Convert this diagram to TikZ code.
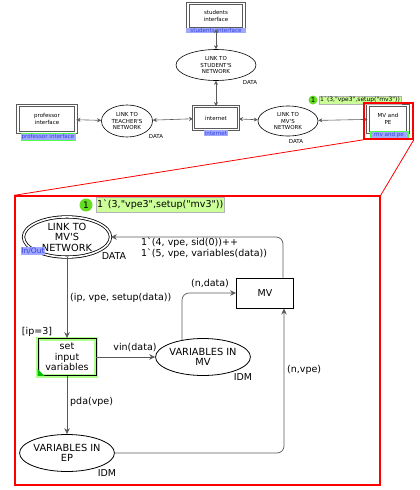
\documentclass[tikz,border=0pt]{standalone}
\usepackage{fontspec}
\setmainfont{DejaVu Sans}[Ligatures=TeXOff]
\usetikzlibrary{arrows.meta,shapes.geometric}
\definecolor{lgray}{HTML}{5A5A5A}
\definecolor{tokgreen}{HTML}{66DD22}
\definecolor{toklab}{HTML}{CCFF99}
\definecolor{tagblue}{HTML}{A0A8FF}
\definecolor{tagtext}{HTML}{3344DD}
\begin{document}
\begin{tikzpicture}[x=1pt,y=-1pt,
  ftop/.style={font=\fontsize{5.5}{6.5}\selectfont, align=center},
  fin/.style={font=\fontsize{9.5}{10.5}\selectfont, align=center},
  subst/.style={rectangle, draw=lgray, double=white, double distance=1.3pt, line width=0.9pt, inner sep=0pt, ftop},
  tplace/.style={ellipse, draw=black, line width=0.6pt, inner sep=0pt, ftop},
  iplace/.style={ellipse, draw=black, line width=0.8pt, inner sep=0pt, font=\fontsize{9.8}{10.5}\selectfont, align=center},
  tag/.style={rectangle, fill=tagblue, text=tagtext, inner sep=0.6pt, font=\fontsize{5.6}{6}\selectfont},
  darr/.style={draw=lgray, line width=0.6pt, {Stealth[length=4pt,width=4pt,inset=1.2pt]}-{Stealth[length=4pt,width=4pt,inset=1.2pt]}},
  arr/.style={draw=lgray, line width=0.7pt, -{Stealth[length=6pt,width=5.5pt,inset=2pt]}},
  insc/.style={fin, inner sep=0pt},
  tokc/.style={circle, fill=tokgreen, inner sep=0pt, minimum size=#1, font=\fontsize{7}{7}\selectfont},
  tokl/.style={rectangle, fill=toklab, draw=gray!60, inner sep=1pt}
]
\useasboundingbox (0,0) rectangle (420,490);

% ---------- top level ----------
\node[subst, minimum width=56, minimum height=25] (stu) at (216,16) {students\\interface};
\node[tag, minimum width=60] (stutag) at (216,30.5) {students interface};
\node[tplace, minimum width=80, minimum height=31] (lts) at (216,65) {LINK TO\\STUDENT'S\\NETWORK};
\node[ftop] (ltsd) at (250,82) {DATA};

\node[subst, minimum width=45, minimum height=23] (inet) at (216,118) {internet};
\node[tag] (inettag) at (216,133) {internet};

\node[subst, minimum width=58, minimum height=27] (prof) at (47,119) {professor\\interface};
\node[tag, draw=green!70, line width=0.4pt] (proftag) at (48,136.5) {professor interface};

\node[tplace, minimum width=51, minimum height=32] (ltt) at (127,121) {LINK TO\\TEACHER'S\\NETWORK};
\node[ftop] (lttd) at (156,136) {DATA};

\node[tplace, minimum width=60, minimum height=30] (lmvt) at (288,121) {LINK TO\\MV'S\\NETWORK};
\node[ftop] (lmvtd) at (296,141) {DATA};

\node[subst, minimum width=40, minimum height=27] (mvpe) at (388,119) {MV and\\PE};
\node[tag, draw=green!70, line width=0.4pt, minimum width=38] (mvpetag) at (389,135) {mv and pe};

\node[tokc=9pt] (t1) at (313,100) {1};
\node[tokl, anchor=west, font=\fontsize{6}{6}\selectfont] (t1l) at (319,100) {1`(3,"vpe3",setup("mv3"))};

\draw[darr] (stu) -- (lts);
\draw[darr] (lts) -- (inet);
\draw[darr] (prof) -- (ltt);
\draw[darr] (ltt) -- (inet);
\draw[darr] (inet) -- (lmvt);
\draw[darr] (lmvt) -- (mvpe);

% ---------- zoom frame ----------
\node[draw=red, line width=1.6pt, minimum width=49, minimum height=36, inner sep=0pt] (hl) at (388.5,121) {};
\node[draw=red, line width=1.4pt, minimum width=365, minimum height=289, inner sep=0pt] (big) at (197.5,340.5) {};
\draw[red, line width=0.8pt] (hl.south west) -- (big.north west);
\draw[red, line width=0.8pt] (hl.south east) -- (big.north east);

% ---------- inner page ----------
\node[tokc=13pt, font=\fontsize{9}{9}\selectfont] (t2) at (86,205) {1};
\node[tokl, anchor=west, font=\fontsize{9.5}{9.5}\selectfont, minimum height=15] (t2l) at (96,205) {1`(3,"vpe3",setup("mv3"))};

\node[iplace, double=white, double distance=1.6pt, minimum width=87, minimum height=33] (lmv) at (67,237) {LINK TO\\MV'S\\NETWORK};
\node[tag, font=\fontsize{7.5}{8}\selectfont] (io) at (33,251) {In/Out};
\node[insc] (lmvd) at (114,256) {DATA};

\node[rectangle, draw=black, line width=0.9pt, minimum width=57, minimum height=30, fin] (mv) at (265,293) {MV};

\node[rectangle, draw=black, line width=0.9pt, minimum width=58, minimum height=37, inner sep=0pt, fin,
      preaction={draw=green!60!lime, line width=4pt, opacity=0.45}] (set) at (67,357) {set\\input\\variables};
\fill[green!75!black] (set.south west) -- ++(7,0) -- ++(-7,-7) -- cycle;
\node[insc] (guard) at (37,332) {[ip=3]};

\node[iplace, minimum width=84, minimum height=37] (vmv) at (203,357) {VARIABLES IN\\MV};
\node[insc] (vmvd) at (243,377) {IDM};

\node[iplace, minimum width=84, minimum height=37] (vep) at (67,453) {VARIABLES IN\\EP};
\node[insc] (vepd) at (107,473) {IDM};

% arcs
\draw[arr] (lmv) -- (set);
\node[insc, anchor=west] (a1) at (70,298) {(ip, vpe, setup(data))};

\draw[arr] (set) -- (vmv);
\node[insc] (a2) at (135,348) {vin(data)};

\draw[arr] (set) -- (vep);
\node[insc, anchor=west] (a3) at (70,402) {pda(vpe)};

\draw[arr, rounded corners=7pt] (vmv.141) |- (mv.west);
\node[insc] (a4) at (210,284) {(n,data)};

\draw[arr, rounded corners=7pt] ([xshift=18pt]mv.north) |- (lmv.east);
\node[insc, anchor=west, align=left] (a5) at (141,248) {1`(4, vpe, sid(0))++\\1`(5, vpe, variables(data))};

\draw[arr, rounded corners=7pt] (vep.east) -| ([xshift=19pt]mv.south);
\node[insc, anchor=west] (a6) at (287,370) {(n,vpe)};
\end{tikzpicture}
\end{document}
